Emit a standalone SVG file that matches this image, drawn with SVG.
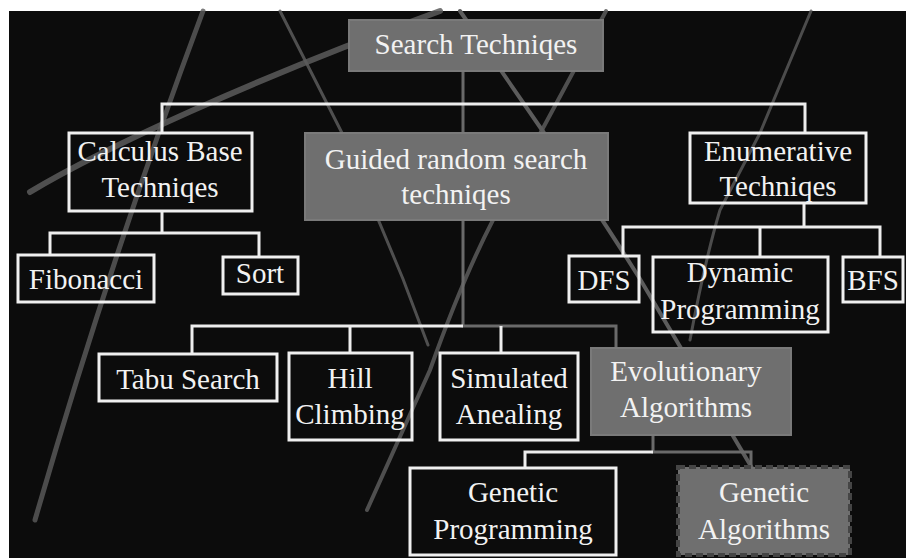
<svg xmlns="http://www.w3.org/2000/svg" width="906" height="558" viewBox="0 0 906 558">
<style>
text{font-family:"Liberation Serif","Times New Roman",serif;font-size:29px;fill:#f2f2f2;text-anchor:middle}
.w{fill:none;stroke:#f0f0f0;stroke-width:3}
.g{fill:#6f6f6f;stroke:#7a7a7a;stroke-width:2}
.cw{stroke:#eeeeee;stroke-width:3;fill:none}
.cg{stroke:#6a6a6a;stroke-width:3;fill:none}
.bg{fill:none;stroke:#5c5c5c;stroke-linecap:round}
</style>
<rect x="0" y="0" width="906" height="558" fill="#ffffff"/>
<rect x="9" y="11" width="897" height="547" fill="#0c0c0c"/>
<g id="background-lines">
<path class="bg" d="M30,192 C100,150 250,80 440,11" stroke-width="6" stroke-opacity="0.85"/>
<path class="bg" d="M460,11 L542,130 Q600,215 640,279 Q700,380 752,468" stroke-width="4"/>
<path class="bg" d="M606,11 L542,130 L493,220 Q462,280 430,370 L367,510" stroke-width="4" stroke-opacity="0.85"/>
<path class="bg" d="M280,11 L342,133 L403,279 L428,345" stroke-width="3" stroke-opacity="0.85"/>
<path class="bg" d="M203,11 Q110,260 35,520" stroke-width="5" stroke-opacity="0.8"/>
<path class="bg" d="M811,11 L760,133 L720,210 Q705,260 690,340" stroke-width="3" stroke-opacity="0.8"/>
</g>
<g id="connectors">
<path class="cg" d="M463,71 V133"/>
<path class="cw" d="M162,133 V104 H805 V133"/>
<path class="cw" d="M162,211 V233 M50,255 V233 H259 V257"/>
<path class="cw" d="M804,203 V227 M623,256 V227 H880 V257 M760,227 V257"/>
<path class="cg" d="M463,220 V326 H616 V348"/>
<path class="cw" d="M463,326 H192 V354 M350,326 V353 M501,326 V353"/>
<path class="cg" d="M653,435 V452 H751 V467"/>
<path class="cw" d="M653,452 H525 V468"/>
</g>
<g id="n-search"><rect class="g" x="349" y="20" width="254" height="51"/><text x="476" y="54">Search Techniqes</text></g>
<g id="n-calculus"><rect class="w" x="69" y="133" width="183" height="78"/><text x="160" y="161">Calculus Base</text><text x="160" y="197">Techniqes</text></g>
<g id="n-guided"><rect class="g" x="305" y="133" width="303" height="87"/><text x="456" y="169">Guided random search</text><text x="456" y="204">techniqes</text></g>
<g id="n-enumerative"><rect class="w" x="690" y="133" width="176" height="70"/><text x="778" y="161">Enumerative</text><text x="778" y="196">Techniqes</text></g>
<g id="n-fibonacci"><rect class="w" x="18" y="255" width="136" height="47"/><text x="86" y="289">Fibonacci</text></g>
<g id="n-sort"><rect class="w" x="223" y="257" width="75" height="37"/><text x="260" y="283">Sort</text></g>
<g id="n-dfs"><rect class="w" x="569" y="256" width="70" height="46"/><text x="604" y="290">DFS</text></g>
<g id="n-dynamic"><rect class="w" x="653" y="257" width="175" height="75"/><text x="740" y="282">Dynamic</text><text x="740" y="319">Programming</text></g>
<g id="n-bfs"><rect class="w" x="843" y="257" width="60" height="45"/><text x="873" y="290">BFS</text></g>
<g id="n-tabu"><rect class="w" x="99" y="354" width="178" height="47"/><text x="188" y="389">Tabu Search</text></g>
<g id="n-hill"><rect class="w" x="289" y="353" width="123" height="87"/><text x="350" y="388">Hill</text><text x="350" y="424">Climbing</text></g>
<g id="n-simulated"><rect class="w" x="440" y="353" width="138" height="87"/><text x="509" y="388">Simulated</text><text x="509" y="424">Anealing</text></g>
<g id="n-evolutionary"><rect class="g" x="591" y="348" width="200" height="87"/><text x="686" y="381">Evolutionary</text><text x="686" y="417">Algorithms</text></g>
<g id="n-gp"><rect class="w" x="410" y="468" width="206" height="87"/><text x="513" y="502">Genetic</text><text x="513" y="539">Programming</text></g>
<g id="n-ga"><rect x="678" y="467" width="172" height="88" fill="#6f6f6f" stroke="#454545" stroke-width="4" stroke-dasharray="7 4"/><text x="764" y="502">Genetic</text><text x="764" y="539">Algorithms</text></g>
</svg>
